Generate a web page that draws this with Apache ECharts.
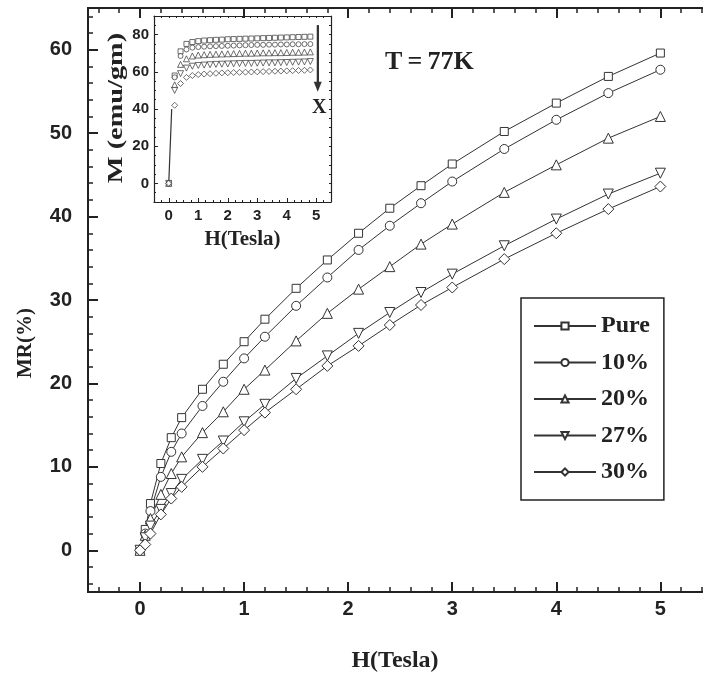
<!DOCTYPE html>
<html>
<head>
<meta charset="utf-8">
<script src="https://cdn.jsdelivr.net/npm/echarts@6/dist/echarts.min.js"></script>
<style>html,body{margin:0;padding:0;background:#fff}#c{width:704px;height:678px}</style>
</head>
<body>
<div id="c"></div>
<script>
// ---------- main plot data ----------
const fieldH = [0, 0.05, 0.1, 0.2, 0.3, 0.4, 0.6, 0.8, 1.0, 1.2, 1.5, 1.8, 2.1, 2.4, 2.7, 3.0, 3.5, 4.0, 4.5, 5.0];
const mrPure = [0, 2.5, 5.6, 10.4, 13.5, 15.9, 19.3, 22.3, 25.0, 27.7, 31.4, 34.8, 38.0, 41.0, 43.7, 46.3, 50.2, 53.6, 56.8, 59.6];
const mr10 = [0, 2.0, 4.7, 8.8, 11.8, 14.0, 17.3, 20.2, 23.0, 25.6, 29.3, 32.7, 36.0, 38.9, 41.6, 44.2, 48.1, 51.6, 54.8, 57.6];
const mr20 = [0, 1.8, 3.8, 6.7, 9.2, 11.2, 14.1, 16.6, 19.3, 21.6, 25.1, 28.4, 31.3, 34.0, 36.7, 39.1, 42.9, 46.2, 49.4, 52.0];
const mr27 = [0, 1.5, 2.9, 4.9, 6.8, 8.5, 10.9, 13.1, 15.4, 17.5, 20.6, 23.3, 26.0, 28.5, 30.9, 33.1, 36.5, 39.7, 42.7, 45.2];
const mr30 = [0, 0.7, 2.0, 4.3, 6.2, 7.6, 10.0, 12.2, 14.4, 16.5, 19.3, 22.1, 24.5, 27.0, 29.4, 31.5, 34.9, 38.0, 40.9, 43.6];
const seriesNames = ['Pure', '10%', '20%', '27%', '30%'];

// ---------- inset data ----------
const insetH = [0, 0.2, 0.4, 0.6, 0.8, 1.0, 1.2, 1.4, 1.6, 1.8, 2.0, 2.2, 2.4, 2.6, 2.8, 3.0, 3.2, 3.4, 3.6, 3.8, 4.0, 4.2, 4.4, 4.6, 4.8];
const mPure = [0, 58, 71, 75, 76, 76.5, 76.8, 77, 77.2, 77.3, 77.5, 77.6, 77.7, 77.8, 77.9, 78, 78.1, 78.2, 78.3, 78.4, 78.5, 78.6, 78.7, 78.8, 78.9];
const m10 = [0, 57, 68.5, 72, 73, 73.3, 73.5, 73.7, 73.8, 73.9, 74, 74.1, 74.2, 74.3, 74.4, 74.5, 74.5, 74.6, 74.6, 74.7, 74.7, 74.8, 74.8, 74.9, 74.9];
const m20 = [0, 53, 64, 67, 68.5, 69, 69.2, 69.4, 69.5, 69.6, 69.7, 69.8, 69.9, 70, 70, 70.1, 70.2, 70.2, 70.3, 70.3, 70.4, 70.5, 70.5, 70.6, 70.7];
const m27 = [0, 50, 59, 62, 63, 63.4, 63.6, 63.8, 64, 64.1, 64.2, 64.3, 64.4, 64.5, 64.5, 64.6, 64.7, 64.8, 64.8, 64.9, 65, 65.1, 65.2, 65.3, 65.5];
const m30 = [0, 42, 53.7, 57, 58, 58.5, 58.8, 59, 59.2, 59.4, 59.5, 59.6, 59.7, 59.8, 59.9, 60, 60.1, 60.2, 60.3, 60.4, 60.5, 60.6, 60.7, 60.8, 61];
const insetLineH = [0, 0.1];
const insetLineM = [0, 40];
const arrowH = [5.05, 5.05];
const arrowM = [85, 52];

// ---------- ticks ----------
const xTickLabels = [0, 1, 2, 3, 4, 5];
const yTickLabels = [0, 10, 20, 30, 40, 50, 60];
const insetXTickLabels = [0, 1, 2, 3, 4, 5];
const insetYTickLabels = [0, 20, 40, 60, 80];

function range(a, b, step) { const r = []; for (let v = a; v <= b + 1e-9; v += step) r.push(Math.round(v * 1000) / 1000); return r; }
const xMinor = range(-0.4, 5.4, 0.2).filter(v => Math.abs(v - Math.round(v)) > 1e-6);
const yMinor = range(-4, 64, 2).filter(v => v % 10 !== 0);
const ixMinor = range(-0.5, 5.5, 0.25);
const iyMinor = range(-10, 90, 5);

const symbols = ['rect', 'circle', 'triangle', 'triangle', 'diamond'];
const symbolSizes = [8, 9, 10, 10, 11];
const symbolRot = [0, 0, 0, 180, 0];
const mainData = [mrPure, mr10, mr20, mr27, mr30];
const insetData = [mPure, m10, m20, m27, m30];
const insetSizes = [5, 5, 6, 6, 6];

const ink = '#222';
const tickFont = { fontFamily: 'Liberation Sans', fontWeight: 'bold', fontSize: 20, color: ink };
const serifBold = 'Liberation Serif';

function axisBase(extra) {
  return Object.assign({
    type: 'value', splitLine: { show: false },
    axisLine: { show: true, onZero: false, lineStyle: { color: ink, width: 2 } },
    axisTick: { show: false }, axisLabel: { show: false }
  }, extra);
}

const xAxis = [
  axisBase({ gridIndex: 0, position: 'bottom', min: -0.5, max: 5.4,
    axisTick: { show: true, inside: true, length: 10, customValues: xTickLabels, lineStyle: { color: ink, width: 2 } },
    axisLabel: Object.assign({ show: true, margin: 7, customValues: xTickLabels }, tickFont),
    name: 'H(Tesla)', nameLocation: 'middle', nameGap: 57,
    nameTextStyle: { fontFamily: serifBold, fontWeight: 'bold', fontSize: 24, color: ink } }),
  axisBase({ gridIndex: 0, position: 'bottom', min: -0.5, max: 5.4,
    axisTick: { show: true, inside: true, length: 5, customValues: xMinor, lineStyle: { color: ink, width: 1.5 } } }),
  axisBase({ gridIndex: 0, position: 'top', min: -0.5, max: 5.4,
    axisTick: { show: true, inside: true, length: 10, customValues: xTickLabels, lineStyle: { color: ink, width: 2 } } }),
  axisBase({ gridIndex: 0, position: 'top', min: -0.5, max: 5.4,
    axisTick: { show: true, inside: true, length: 5, customValues: xMinor, lineStyle: { color: ink, width: 1.5 } } }),
  axisBase({ gridIndex: 1, position: 'bottom', min: -0.5, max: 5.5,
    axisLine: { show: true, onZero: false, lineStyle: { color: ink, width: 1.2 } },
    axisTick: { show: true, inside: true, length: 4, customValues: insetXTickLabels, lineStyle: { color: ink, width: 1 } },
    axisLabel: { show: true, margin: 6, customValues: insetXTickLabels, fontFamily: 'Liberation Sans', fontWeight: 'bold', fontSize: 15, color: ink },
    name: 'H(Tesla)', nameLocation: 'middle', nameGap: 27,
    nameTextStyle: { fontFamily: serifBold, fontWeight: 'bold', fontSize: 21, color: ink } }),
  axisBase({ gridIndex: 1, position: 'bottom', min: -0.5, max: 5.5,
    axisLine: { show: false, onZero: false },
    axisTick: { show: true, inside: true, length: 2, customValues: ixMinor, lineStyle: { color: ink, width: 1 } } }),
  axisBase({ gridIndex: 1, position: 'top', min: -0.5, max: 5.5,
    axisLine: { show: true, onZero: false, lineStyle: { color: ink, width: 1.2 } },
    axisTick: { show: true, inside: true, length: 2, customValues: ixMinor, lineStyle: { color: ink, width: 1 } } })
];

const yAxis = [
  axisBase({ gridIndex: 0, position: 'left', min: -5, max: 65,
    axisTick: { show: true, inside: true, length: 10, customValues: yTickLabels, lineStyle: { color: ink, width: 2 } },
    axisLabel: Object.assign({ show: true, margin: 16, customValues: yTickLabels }, tickFont) }),
  axisBase({ gridIndex: 0, position: 'left', min: -5, max: 65,
    axisTick: { show: true, inside: true, length: 5, customValues: yMinor, lineStyle: { color: ink, width: 1.5 } } }),
  axisBase({ gridIndex: 1, position: 'left', min: -10, max: 90,
    axisLine: { show: true, onZero: false, lineStyle: { color: ink, width: 1.2 } },
    axisTick: { show: true, inside: true, length: 4, customValues: insetYTickLabels, lineStyle: { color: ink, width: 1 } },
    axisLabel: { show: true, margin: 5, customValues: insetYTickLabels, fontFamily: 'Liberation Sans', fontWeight: 'bold', fontSize: 15, color: ink } }),
  axisBase({ gridIndex: 1, position: 'left', min: -10, max: 90,
    axisLine: { show: false, onZero: false },
    axisTick: { show: true, inside: true, length: 2, customValues: iyMinor, lineStyle: { color: ink, width: 1 } } }),
  axisBase({ gridIndex: 1, position: 'right', min: -10, max: 90,
    axisLine: { show: true, onZero: false, lineStyle: { color: ink, width: 1.2 } },
    axisTick: { show: true, inside: true, length: 2, customValues: iyMinor, lineStyle: { color: ink, width: 1 } } })
];

const series = [];
seriesNames.forEach((name, i) => {
  series.push({
    name: name, type: 'line', xAxisIndex: 0, yAxisIndex: 0,
    data: fieldH.map((h, k) => [h, mainData[i][k]]),
    symbol: symbols[i], symbolSize: symbolSizes[i], symbolRotate: symbolRot[i],
    showAllSymbol: true,
    lineStyle: { color: '#333', width: 1 },
    itemStyle: { color: '#fff', borderColor: '#333', borderWidth: 1 },
    z: 3, animation: false
  });
});
seriesNames.forEach((name, i) => {
  series.push({
    name: 'inset ' + name, type: 'scatter', xAxisIndex: 4, yAxisIndex: 2,
    data: insetH.map((h, k) => [h, insetData[i][k]]),
    symbol: symbols[i], symbolSize: insetSizes[i], symbolRotate: symbolRot[i],
    itemStyle: { color: '#fff', borderColor: '#333', borderWidth: 0.9 },
    z: 3, animation: false
  });
});
series.push({
  name: 'inset line', type: 'line', xAxisIndex: 4, yAxisIndex: 2,
  data: insetLineH.map((h, k) => [h, insetLineM[k]]),
  showSymbol: false, lineStyle: { color: '#333', width: 1.2 }, z: 2, animation: false
});
series.push({
  name: 'arrow', type: 'line', xAxisIndex: 4, yAxisIndex: 2,
  data: arrowH.map((h, k) => [h, arrowM[k]]),
  showSymbol: false, lineStyle: { color: '#333', width: 2 }, animation: false,
  markLine: {
    silent: true, symbol: ['none', 'triangle'], symbolSize: [8, 10], symbolRotate: 180,
    lineStyle: { color: '#333', width: 2, type: 'solid' }, label: { show: false },
    data: [[{ coord: [arrowH[0], arrowM[0]] }, { coord: [arrowH[1], arrowM[1]] }]]
  }
});

const chart = echarts.init(document.getElementById('c'), null, { renderer: 'canvas' });
chart.setOption({
  backgroundColor: '#fff',
  animation: false,
  grid: [
    { left: 88, top: 8, right: 2, bottom: 86, containLabel: false, outerBoundsMode: 'none' },
    { left: 154, top: 16, right: 373, bottom: 476, containLabel: false, outerBoundsMode: 'none' }
  ],
  xAxis: xAxis,
  yAxis: yAxis,
  legend: {
    data: seriesNames, orient: 'vertical', left: 521, top: 298,
    borderColor: ink, borderWidth: 1.5, padding: [16, 14, 16, 12],
    itemWidth: 62, itemHeight: 9, itemGap: 12.5,
    textStyle: { fontFamily: serifBold, fontWeight: 'bold', fontSize: 24, color: ink, lineHeight: 22 },
    backgroundColor: '#fff'
  },
  graphic: [
    { type: 'text', left: 15, top: 308, rotation: Math.PI / 2,
      style: { text: 'MR(%)', font: 'bold 21px "Liberation Serif"', fill: ink } },
    { type: 'text', x: 117, y: 108, rotation: Math.PI / 2, scaleX: 1.35,
      style: { text: 'M (emu/gm)', font: 'bold 21px "Liberation Serif"', fill: ink, align: 'center', verticalAlign: 'middle' } },
    { type: 'text', left: 385, top: 49,
      style: { text: 'T\u2009=\u200977K', font: 'bold 26px "Liberation Serif"', fill: ink } },
    { type: 'text', left: 312, top: 98,
      style: { text: 'X', font: 'bold 20px "Liberation Serif"', fill: ink } }
  ],
  series: series
});
</script>
</body>
</html>
